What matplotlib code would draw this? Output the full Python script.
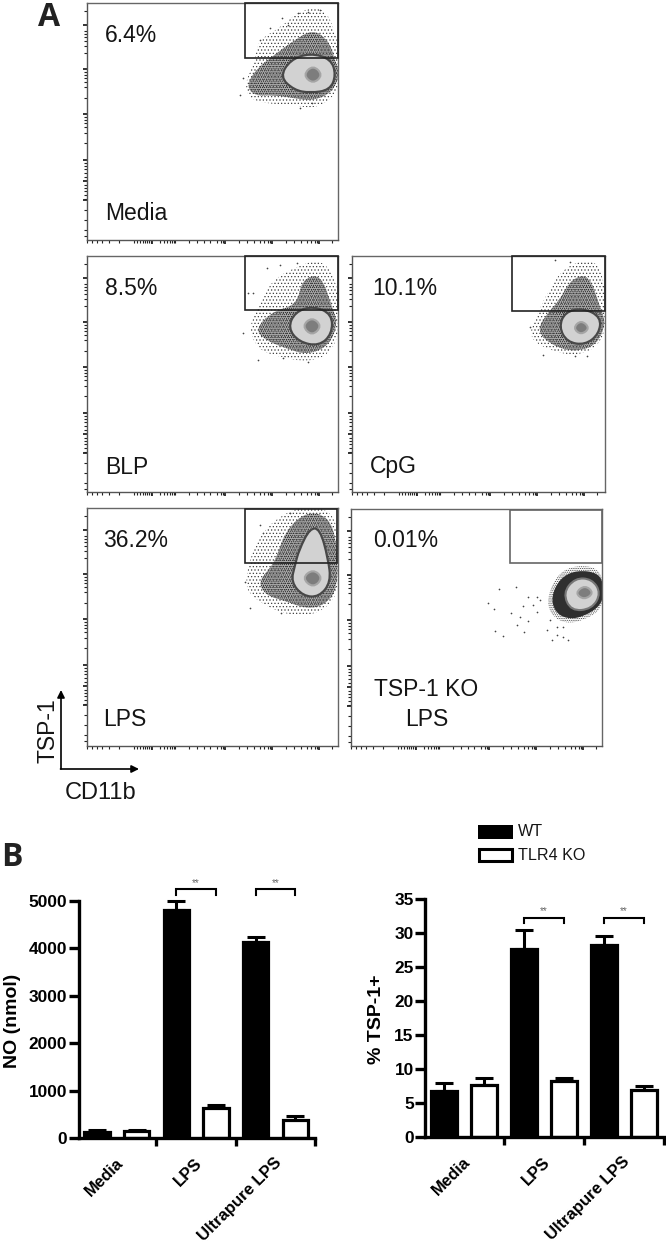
import matplotlib
matplotlib.use("Agg")
import matplotlib.pyplot as plt
import numpy as np
from matplotlib.patches import PathPatch, Rectangle
from matplotlib.path import Path

W, H = 666, 1246
plt.rcParams['font.family'] = ['Liberation Sans', 'DejaVu Sans']
plt.rcParams['hatch.linewidth'] = 0.5

# panel A: frames and gates, read in image pixels
panel_names = ['media', 'blp', 'cpg', 'lps', 'ko']
frames = [(87, 3, 338, 240), (87, 256, 338, 492), (352, 256, 605, 492), (87, 508, 338, 746), (351, 509, 602, 746)]
gates = [(245, 3, 338, 58), (245, 256, 338, 310), (512, 256, 605, 311), (245, 509, 337, 563), (510, 510, 602, 563)]
percents = ['6.4%', '8.5%', '10.1%', '36.2%', '0.01%']
percent_pos = [(105, 35), (105, 288), (372, 288), (103, 541), (373, 541)]
conditions = ['Media', 'BLP', 'CpG', 'LPS', 'TSP-1 KO']
condition_pos = [(105, 213), (105, 468), (370, 466), (103, 719), (374, 689)]

sparse_media = [(245, 82), (255, 62), (258, 40), (280, 28), (300, 10), (324, 7), (336, 33), (340, 60), (340, 82), (332, 99), (313, 109), (290, 104), (267, 104), (248, 98)]
dark_media = [(246, 86), (257, 68), (273, 56), (293, 41), (313, 29), (329, 41), (335, 60), (340, 73), (333, 92), (313, 101), (293, 98), (273, 95), (255, 96)]
light_media = [(280, 77), (290, 60), (310, 53), (331, 59), (336, 75), (330, 90), (310, 93), (294, 90)]
core_media = [(303, 75), (313, 65), (323, 75), (313, 84)]
stray_media = [(282, 18), (298, 13), (320, 10), (308, 12), (260, 40), (270, 28), (288, 25), (240, 95), (300, 108), (312, 103), (243, 78)]

sparse_blp = [(248, 327), (261, 303), (271, 281), (297, 266), (322, 259), (336, 280), (340, 310), (340, 332), (329, 355), (307, 362), (280, 357), (258, 350)]
dark_blp = [(255, 329), (273, 311), (297, 305), (302, 279), (321, 274), (332, 307), (338, 323), (329, 346), (307, 355), (285, 348), (265, 340)]
light_blp = [(288, 328), (295, 312), (313, 306), (332, 314), (332, 334), (319, 346), (299, 342)]
core_blp = [(302, 326), (312, 317), (322, 326), (312, 336)]
stray_blp = [(280, 265), (297, 263), (267, 268), (248, 293), (253, 293), (243, 333), (258, 360), (283, 358), (308, 362)]

sparse_cpg = [(528, 338), (536, 317), (548, 291), (565, 266), (595, 258), (605, 283), (607, 323), (599, 346), (577, 356), (551, 351)]
dark_cpg = [(536, 331), (549, 311), (559, 301), (571, 279), (589, 274), (600, 307), (606, 323), (597, 345), (575, 352), (553, 346)]
light_cpg = [(559, 327), (565, 312), (583, 308), (601, 317), (599, 334), (585, 345), (567, 342)]
core_cpg = [(573, 328), (581, 320), (590, 328), (581, 335)]
stray_cpg = [(555, 260), (570, 262), (530, 327), (543, 355), (575, 356), (587, 356)]

sparse_lps = [(243, 583), (258, 535), (288, 510), (319, 505), (339, 521), (339, 589), (329, 606), (310, 616), (283, 614), (255, 600)]
dark_lps = [(258, 581), (275, 563), (285, 531), (307, 511), (329, 517), (337, 543), (338, 588), (325, 605), (307, 609), (285, 601), (265, 595)]
light_lps = [(299, 550), (310, 528), (320, 529), (328, 558), (331, 582), (319, 597), (303, 596), (291, 582), (295, 565)]
core_lps = [(302, 578), (313, 569), (323, 578), (313, 588)]
stray_lps = [(260, 525), (290, 513), (250, 608), (281, 613), (245, 582), (263, 533)]

sparse_ko = [(547, 597), (558, 573), (577, 565), (599, 568), (604, 587), (602, 609), (585, 620), (565, 624), (550, 614)]
dark_ko = [(551, 597), (560, 578), (577, 570), (599, 573), (604, 587), (602, 605), (583, 617), (567, 619), (555, 612)]
light_ko = [(563, 593), (575, 578), (592, 579), (601, 593), (592, 609), (571, 611)]
core_ko = [(575, 593), (585, 585), (594, 593), (584, 600)]
stray_ko = [(499, 589), (516, 587), (488, 603), (494, 609), (511, 613), (495, 631), (503, 636), (524, 632), (517, 625), (520, 617), (528, 621), (523, 606), (528, 597), (537, 597), (533, 605), (540, 600), (547, 630), (557, 635), (563, 637), (568, 640), (552, 640), (557, 627), (563, 627), (550, 620), (537, 612)]

sparse = [sparse_media, sparse_blp, sparse_cpg, sparse_lps, sparse_ko]
dark = [dark_media, dark_blp, dark_cpg, dark_lps, dark_ko]
light = [light_media, light_blp, light_cpg, light_lps, light_ko]
core = [core_media, core_blp, core_cpg, core_lps, core_ko]
stray = [stray_media, stray_blp, stray_cpg, stray_lps, stray_ko]

# log axis ticks as offsets from panel corner
x_minor = [0, 5, 10, 15, 22, 32, 47, 50, 53, 56, 58, 60, 62, 64, 73, 77, 80, 83, 85, 87, 88, 102, 110, 117, 123, 130, 134, 136, 152, 160, 167, 173, 177, 181, 183, 199, 207, 214, 220, 224, 228, 230, 245]
x_major = [65, 138, 185, 232]
y_minor = [8, 28, 31, 34, 38, 43, 50, 69, 72, 75, 79, 84, 95, 114, 117, 120, 124, 130, 140, 160, 163, 166, 170, 174, 182, 185, 188, 192, 196, 207, 217, 227, 233]
y_major = [22, 66, 111, 157, 178, 197]

# panel B values
bar_groups = ['Media', 'LPS', 'Ultrapure LPS']
no_values = [130, 140, 4800, 640, 4140, 370]
no_errors = [40, 25, 200, 50, 110, 100]
tsp_values = [6.7, 7.6, 27.6, 8.2, 28.2, 6.9]
tsp_errors = [1.2, 1.1, 2.8, 0.5, 1.4, 0.6]
no_ticks = [0, 1000, 2000, 3000, 4000, 5000]
tsp_ticks = [0, 5, 10, 15, 20, 25, 30, 35]


def px_axes(fig, left, top, right, bottom):
    return fig.add_axes([left / W, 1 - bottom / H, (right - left) / W, (bottom - top) / H])


def fig_text(fig, x, y, s, **kw):
    kw.setdefault('va', 'center')
    fig.text(x / W, 1 - y / H, s, **kw)


def blob(points, **kw):
    # rounded closed outline through the edge midpoints of the read outline
    pts = np.array(points, dtype=float)
    mids = (pts + np.roll(pts, -1, axis=0)) / 2
    verts = [mids[-1]]
    codes = [Path.MOVETO]
    for p, m in zip(pts, mids):
        verts += [p, m]
        codes += [Path.CURVE3, Path.CURVE3]
    return PathPatch(Path(verts, codes), **kw)


fig = plt.figure(figsize=(W / 100, H / 100), dpi=100)

for i, name in enumerate(panel_names):
    x0, y0, x1, y1 = frames[i]
    ax = px_axes(fig, x0, y0, x1, y1)
    ax.set_xlim(x0, x1)
    ax.set_ylim(y1, y0)
    if name != 'ko':
        ax.add_patch(blob(sparse[i], fc='none', ec='#3c3c3c', lw=0, hatch='.....'))
        ax.add_patch(blob(dark[i], fc='#555555', ec='none', lw=0, alpha=0.5))
        ax.add_patch(blob(dark[i], fc='none', ec='#222222', lw=0, hatch='........'))
        ax.add_patch(blob(light[i], fc='#d2d2d2', ec='#484848', lw=1.6, zorder=3))
    else:
        ax.add_patch(blob(sparse[i], fc='none', ec='#3c3c3c', lw=0, hatch='.........'))
        ax.add_patch(blob(dark[i], fc='#2f2f2f', ec='none', lw=0))
        ax.add_patch(blob(light[i], fc='#d2d2d2', ec='#777777', lw=1.5, zorder=3))
    ax.add_patch(blob(core[i], fc='#7d7d7d', ec='#a5a5a5', lw=1.5, zorder=3))
    ax.scatter([p[0] for p in stray[i]], [p[1] for p in stray[i]], s=1.5, c='#444444', lw=0)
    gx0, gy0, gx1, gy1 = gates[i]
    gate_col = '#666666' if name == 'ko' else '#222222'
    ax.add_patch(Rectangle((gx0, gy0), gx1 - gx0, gy1 - gy0, fc='none', ec=gate_col, lw=1.2, clip_on=False, zorder=5))
    ax.set_xticks([x0 + v for v in x_major])
    ax.set_xticks([x0 + v for v in x_minor], minor=True)
    ax.set_yticks([y0 + v for v in y_major])
    ax.set_yticks([y0 + v for v in y_minor], minor=True)
    ax.tick_params(which='major', length=3.2, width=1.2, color='#111111', labelbottom=False, labelleft=False)
    ax.tick_params(which='minor', length=2.0, width=0.8, color='#222222')
    for s in ['top', 'right']:
        ax.spines[s].set_color('#666666')
        ax.spines[s].set_linewidth(1.0)
    for s in ['left', 'bottom']:
        ax.spines[s].set_color('#555555')
        ax.spines[s].set_linewidth(1.0)
    fig_text(fig, percent_pos[i][0], percent_pos[i][1], percents[i], fontsize=16.5, color='#151515')
    fig_text(fig, condition_pos[i][0], condition_pos[i][1], conditions[i], fontsize=16.5, color='#151515')

fig_text(fig, 405, 719, 'LPS', fontsize=16.5, color='#151515')

# TSP-1 / CD11b axes arrows
overlay = px_axes(fig, 0, 0, W, H)
overlay.set_xlim(0, W)
overlay.set_ylim(H, 0)
overlay.axis('off')
overlay.patch.set_alpha(0)
arrow = dict(arrowstyle='-|>', color='black', lw=1.2, mutation_scale=11, shrinkA=0, shrinkB=0)
overlay.annotate('', xy=(61, 690), xytext=(61, 769), arrowprops=arrow)
overlay.annotate('', xy=(139, 769), xytext=(60.5, 769), arrowprops=arrow)
fig_text(fig, 48, 731, 'TSP-1', fontsize=16.5, rotation=90, ha='center', color='#151515')
fig_text(fig, 65, 793, 'CD11b', fontsize=17, color='#151515')

# panel letters
fig_text(fig, 38, 17, 'A', fontsize=23, fontweight='bold', family='Open Sans', color='#222222')
fig_text(fig, 1, 857, 'B', fontsize=23, fontweight='bold', family='Open Sans', color='#222222')


def bar_chart(box, values, errors, ticks, ymax, ylabel, label_x, bracket_y, drop, star_y):
    ax = px_axes(fig, *box)
    pos = np.arange(6)
    for p, v, e in zip(pos, values, errors):
        col = 'black' if p % 2 == 0 else 'white'
        ax.errorbar(p, v, yerr=[[0], [e]], color='black', elinewidth=2.2, capsize=6.3, capthick=2.2, zorder=1, clip_on=False)
        ax.bar(p, v, width=0.64, color=col, edgecolor='black', linewidth=2.3, zorder=2)
    ax.set_xlim(-18 / 39.5, 5.5)
    ax.set_ylim(0, ymax)
    for s in ['top', 'right']:
        ax.spines[s].set_visible(False)
    for s in ['left', 'bottom']:
        ax.spines[s].set_linewidth(2.4)
        ax.spines[s].set_zorder(3)
    ax.set_yticks(ticks)
    ax.set_xticks([1.5, 3.5, 5.5])
    ax.set_xticklabels([])
    ax.set_xticks([0.46, 2.46, 4.46], minor=True)
    ax.set_xticklabels(bar_groups, minor=True, rotation=45, ha='right', rotation_mode='anchor', fontsize=12, fontweight='bold')
    ax.tick_params(axis='x', which='minor', length=0, pad=12.5)
    ax.tick_params(axis='x', which='major', length=6, width=2.4)
    ax.tick_params(axis='y', length=7, width=2.4, pad=1.5)
    for t in ax.get_yticklabels():
        t.set_fontsize(12.4)
        t.set_fontweight('bold')
    for a, b in [(2, 3), (4, 5)]:
        ax.plot([a, a, b, b], [bracket_y - drop, bracket_y, bracket_y, bracket_y - drop], color='black', lw=1.5, clip_on=False, solid_joinstyle='miter')
        ax.text((a + b) / 2, star_y, '**', fontsize=7, color='#666666', ha='center', va='center', clip_on=False)
    fig_text(fig, label_x, (box[1] + box[3]) / 2 + 1, ylabel, fontsize=14, fontweight='bold', rotation=90, ha='center')
    return ax


bar_chart((79, 901, 315, 1138), no_values, no_errors, no_ticks, 5000, 'NO (nmol)', 13, 5253, 125, 5380)
bar_chart((425.5, 899, 664, 1137), tsp_values, tsp_errors, tsp_ticks, 35, '% TSP-1+', 376, 32.2, 0.7, 33.2)

# legend
fig.add_artist(Rectangle((478 / W, 1 - 838.5 / H), 35 / W, 13.5 / H, transform=fig.transFigure, fc='black', ec='black', lw=0))
fig.add_artist(Rectangle((479 / W, 1 - 861 / H), 33 / W, 12.5 / H, transform=fig.transFigure, fc='white', ec='black', lw=2.2))
fig_text(fig, 518, 832, 'WT', fontsize=11.6, color='#151515')
fig_text(fig, 518, 855, 'TLR4 KO', fontsize=11.6, color='#151515')

plt.savefig('out.png', dpi=100)
